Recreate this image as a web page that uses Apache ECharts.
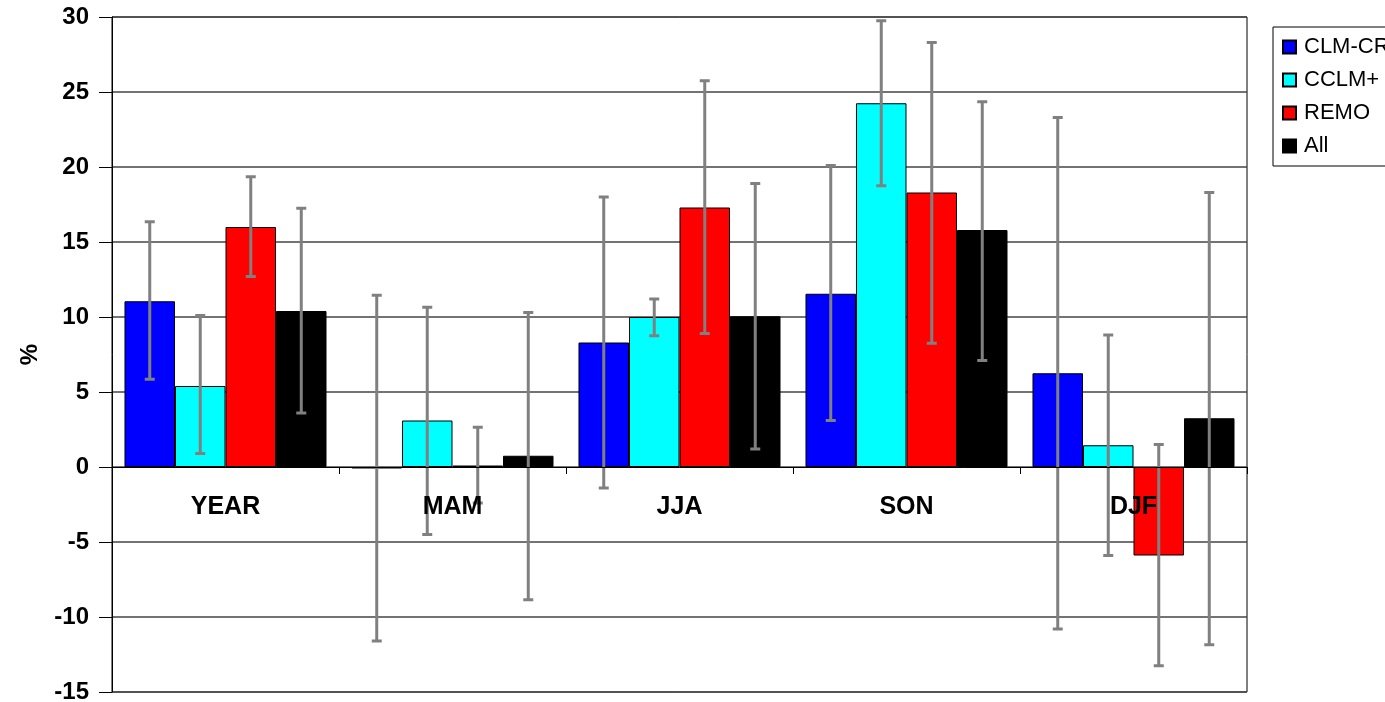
<!DOCTYPE html>
<html>
<head>
<meta charset="utf-8">
<script src="https://cdn.jsdelivr.net/npm/echarts@6/dist/echarts.min.js"></script>
<style>html,body{margin:0;padding:0;background:#fff;}#c{width:1385px;height:702px;}</style>
</head>
<body>
<div id="c"></div>
<script>
const categories = ['YEAR', 'MAM', 'JJA', 'SON', 'DJF'];
const seriesNames = ['CLM-CR', 'CCLM+', 'REMO', 'All'];
const yTicks = [-15, -10, -5, 0, 5, 10, 15, 20, 25, 30];

const clmValues  = [11.05, -0.1, 8.3, 11.55, 6.25];
const cclmValues = [5.4, 3.1, 10.0, 24.25, 1.45];
const remoValues = [16.0, 0.1, 17.3, 18.3, -5.9];
const allValues  = [10.4, 0.75, 10.05, 15.8, 3.25];

const clmLow  = [5.85, -11.6, -1.4, 3.1, -10.8];
const clmHigh = [16.35, 11.45, 18.0, 20.1, 23.3];
const cclmLow  = [0.9, -4.5, 8.75, 18.75, -5.9];
const cclmHigh = [10.1, 10.65, 11.2, 29.75, 8.8];
const remoLow  = [12.7, -2.4, 8.9, 8.25, -13.25];
const remoHigh = [19.35, 2.65, 25.75, 28.3, 1.5];
const allLow  = [3.6, -8.85, 1.2, 7.1, -11.85];
const allHigh = [17.25, 10.3, 18.9, 24.35, 18.3];

const colors = ['#0000ff', '#00ffff', '#ff0000', '#000000'];
const values = [clmValues, cclmValues, remoValues, allValues];
const lows = [clmLow, cclmLow, remoLow, allLow];
const highs = [clmHigh, cclmHigh, remoHigh, allHigh];

const GAP = 0.11;
const FONT = '"Liberation Sans", Arial, sans-serif';
const W = 1385, H = 702;
const GRID = { left: 112, right: 138, top: 17, bottom: 10 };
const yMin = yTicks[0], yMax = yTicks[yTicks.length - 1];
const gridH = H - GRID.top - GRID.bottom;
const zeroOffset = -gridH * (0 - yMin) / (yMax - yMin);

const barSeries = seriesNames.map((n, i) => ({
  name: n,
  type: 'bar',
  data: values[i],
  barGap: '0%',
  barCategoryGap: (GAP * 100) + '%',
  itemStyle: { color: colors[i], borderColor: '#000', borderWidth: 1 },
  z: 2
}));

const errSeries = seriesNames.map((n, i) => ({
  name: 'err' + i,
  type: 'custom',
  z: 3,
  silent: true,
  data: categories.map((c, k) => [k, lows[i][k], highs[i][k]]),
  encode: { x: 0, y: [1, 2] },
  renderItem: function (params, api) {
    const k = api.value(0);
    const band = api.size([1, 0])[0];
    const bw = band * (1 - GAP) / 4;
    const cx = api.coord([k, 0])[0] + (i - 1.5) * bw;
    const yl = api.coord([k, api.value(1)])[1];
    const yh = api.coord([k, api.value(2)])[1];
    const st = { stroke: '#808080', lineWidth: 3 };
    const cap = 5;
    return {
      type: 'group',
      children: [
        { type: 'line', shape: { x1: cx, y1: yl, x2: cx, y2: yh }, style: st },
        { type: 'line', shape: { x1: cx - cap, y1: yl, x2: cx + cap, y2: yl }, style: st },
        { type: 'line', shape: { x1: cx - cap, y1: yh, x2: cx + cap, y2: yh }, style: st }
      ]
    };
  }
}));

const chart = echarts.init(document.getElementById('c'), null, { renderer: 'canvas' });
chart.setOption({
  animation: false,
  backgroundColor: '#fff',
  textStyle: { fontFamily: FONT },
  grid: {
    left: GRID.left, right: GRID.right, top: GRID.top, bottom: GRID.bottom,
    containLabel: false,
    outerBoundsMode: 'none',
    show: true, borderColor: '#000', borderWidth: 1, backgroundColor: 'transparent'
  },
  legend: {
    data: seriesNames,
    orient: 'vertical',
    left: 1273, top: 27,
    padding: [9, 16, 9, 9],
    itemGap: 11,
    itemWidth: 13, itemHeight: 13,
    icon: 'rect',
    borderColor: '#000', borderWidth: 1, backgroundColor: '#fff',
    textStyle: { fontSize: 22, color: '#000', fontFamily: FONT, padding: [0, 0, 0, 3] }
  },
  xAxis: {
    type: 'category',
    data: categories,
    position: 'bottom',
    offset: zeroOffset,
    z: 5,
    axisLine: { onZero: false, lineStyle: { color: '#000', width: 1 } },
    axisTick: { show: true, length: 7, lineStyle: { color: '#000' } },
    axisLabel: { margin: 28, fontSize: 25, fontWeight: 'bold', color: '#000', fontFamily: FONT },
    splitLine: { show: false }
  },
  yAxis: {
    type: 'value',
    min: yMin, max: yMax, interval: 5,
    name: '%',
    nameLocation: 'middle',
    nameGap: 70,
    nameRotate: 90,
    nameTextStyle: { fontSize: 24, fontWeight: 'bold', color: '#000', fontFamily: FONT },
    axisLine: { show: true, lineStyle: { color: '#000', width: 1 } },
    axisTick: { show: true, length: 13, lineStyle: { color: '#000' } },
    axisLabel: { margin: 23, fontSize: 24, fontWeight: 'bold', color: '#000', fontFamily: FONT },
    splitLine: { show: true, lineStyle: { color: '#444', width: 1.5 } }
  },
  series: barSeries.concat(errSeries)
});
</script>
</body>
</html>
